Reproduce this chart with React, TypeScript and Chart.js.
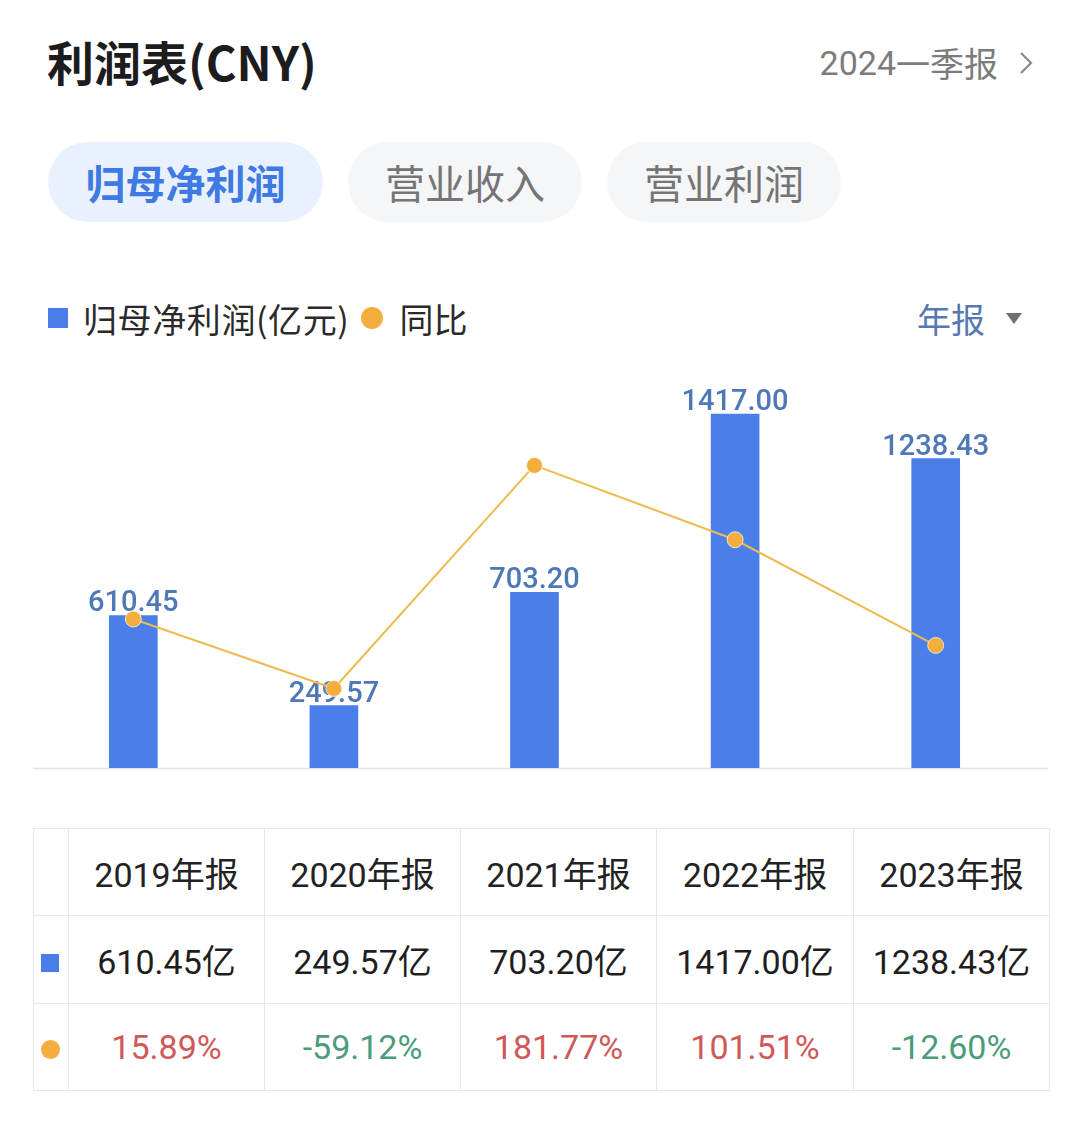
import React, { useEffect, useRef } from "react";
import { Chart, registerables } from "chart.js";

Chart.register(...registerables);

const categories = ["2019年报", "2020年报", "2021年报", "2022年报", "2023年报"];
const profitValues = [610.45, 249.57, 703.2, 1417.0, 1238.43];
const yoyValues = [15.89, -59.12, 181.77, 101.51, -12.6];
const tabs = ["归母净利润", "营业收入", "营业利润"];

const BAR_COLOR = "#4A7FEA";
const LINE_COLOR = "#EFBA50";
const DOT_COLOR = "#F4AE3D";
const LABEL_COLOR = "#4F78B6";
const NUM_FONT = 'Roboto, "Noto Sans CJK SC", sans-serif';
const CJK_FONT = '"Noto Sans CJK SC", "Noto Sans", sans-serif';

export default function App() {
  const canvasRef = useRef<HTMLCanvasElement | null>(null);

  useEffect(() => {
    document.body.style.margin = "0";
    const canvas = canvasRef.current;
    if (!canvas) return;

    const barLabelPlugin = {
      id: "barLabels",
      afterDatasetDraw(chart: any, args: any) {
        if (args.index !== 1) return;
        const ctx = chart.ctx;
        const meta = chart.getDatasetMeta(1);
        ctx.save();
        ctx.font = `500 29px ${NUM_FONT}`;
        ctx.fillStyle = LABEL_COLOR;
        ctx.textAlign = "center";
        ctx.textBaseline = "alphabetic";
        meta.data.forEach((el: any, i: number) => {
          ctx.fillText(profitValues[i].toFixed(2), el.x, el.y - 4);
        });
        ctx.restore();
      },
      beforeDatasetsDraw(chart: any) {
        const ctx = chart.ctx;
        const y = chart.chartArea.bottom + 0.5;
        ctx.save();
        ctx.strokeStyle = "#E3E3E3";
        ctx.lineWidth = 1.5;
        ctx.beginPath();
        ctx.moveTo(33, y);
        ctx.lineTo(1048, y);
        ctx.stroke();
        ctx.restore();
      },
    };

    const chart = new Chart(canvas, {
      type: "bar",
      data: {
        labels: categories,
        datasets: [
          {
            type: "line",
            label: "同比",
            data: yoyValues,
            yAxisID: "y1",
            borderColor: LINE_COLOR,
            borderWidth: 2,
            pointRadius: 8,
            pointBackgroundColor: DOT_COLOR,
            pointBorderColor: "rgba(255,255,255,0.7)",
            pointBorderWidth: 1,
            tension: 0,
          } as any,
          {
            type: "bar",
            label: "归母净利润(亿元)",
            data: profitValues,
            yAxisID: "y",
            backgroundColor: BAR_COLOR,
            barThickness: 48,
          } as any,
        ],
      },
      options: {
        animation: false,
        responsive: false,
        maintainAspectRatio: false,
        layout: { padding: { left: 33, right: 44, top: 28, bottom: 12 } },
        plugins: { legend: { display: false }, tooltip: { enabled: false } },
        scales: {
          x: { display: false, offset: true, grid: { display: false } },
          y: { display: false, min: 0, max: 1601 },
          y1: { display: false, min: -145, max: 287, position: "right" },
        },
      },
      plugins: [barLabelPlugin],
    });
    return () => chart.destroy();
  }, []);

  const cellBorder = "1px solid #E8E8E8";
  const colWidths = [35, 196, 196, 196, 197, 196];

  const pctColor = (v: number) => (v >= 0 ? "#CF5959" : "#4C9C7C");

  return (
    <div
      style={{
        position: "absolute",
        left: 0,
        top: 0,
        width: 1080,
        height: 1138,
        background: "#fff",
        overflow: "hidden",
        fontFamily: CJK_FONT,
      }}
    >
      {/* Title */}
      <div
        style={{
          position: "absolute",
          left: 47,
          top: 29,
          fontSize: 47,
          fontWeight: 700,
          color: "#1C1C1E",
          lineHeight: "64px",
        }}
      >
        利润表(CNY)
      </div>
      <div
        style={{
          position: "absolute",
          right: 46,
          top: 38,
          fontSize: 34,
          color: "#7C7C7C",
          lineHeight: "50px",
          display: "flex",
          alignItems: "center",
        }}
      >
        <span style={{ fontFamily: NUM_FONT }}>2024</span>
        <span>一季报</span>
        <svg width="16" height="26" viewBox="0 0 16 26" style={{ marginLeft: 20 }}>
          <polyline points="3,3 13,13 3,23" fill="none" stroke="#8A8A8A" strokeWidth="2.2" />
        </svg>
      </div>

      {/* Tabs */}
      {tabs.map((t, i) => {
        const lefts = [48, 348, 607];
        const widths = [275, 234, 234];
        const active = i === 0;
        return (
          <div
            key={t}
            style={{
              position: "absolute",
              left: lefts[i],
              top: 142,
              width: widths[i],
              height: 80,
              borderRadius: 40,
              background: active ? "#EAF1FE" : "#F5F6F8",
              color: active ? "#3F7AE4" : "#757575",
              fontSize: 40,
              fontWeight: active ? 700 : 400,
              display: "flex",
              alignItems: "center",
              justifyContent: "center",
            }}
          >
            {t}
          </div>
        );
      })}

      {/* Legend */}
      <div
        style={{
          position: "absolute",
          left: 48,
          top: 296,
          height: 44,
          display: "flex",
          alignItems: "center",
          fontSize: 34,
          color: "#2A2A2A",
        }}
      >
        <span style={{ width: 20, height: 20, background: BAR_COLOR, display: "inline-block", marginRight: 15 }} />
        <span style={{ letterSpacing: 0.6 }}>归母净利润(亿元)</span>
        <span
          style={{
            width: 22,
            height: 22,
            borderRadius: 11,
            background: DOT_COLOR,
            display: "inline-block",
            marginLeft: 12,
            marginRight: 16,
          }}
        />
        <span>同比</span>
      </div>
      <div
        style={{
          position: "absolute",
          left: 917,
          top: 296,
          height: 44,
          display: "flex",
          alignItems: "center",
          fontSize: 34,
          color: "#5878B0",
        }}
      >
        <span>年报</span>
        <svg width="18" height="14" viewBox="0 0 18 14" style={{ marginLeft: 20 }}>
          <polygon points="1,2 17,2 9,13" fill="#707070" />
        </svg>
      </div>

      {/* Chart */}
      <canvas
        ref={canvasRef}
        width={1080}
        height={440}
        style={{ position: "absolute", left: 0, top: 340, width: 1080, height: 440 }}
      />

      {/* Table */}
      <table
        style={{
          position: "absolute",
          left: 33,
          top: 828,
          width: 1016,
          borderCollapse: "collapse",
          tableLayout: "fixed",
          fontFamily: NUM_FONT,
          fontSize: 34,
        }}
      >
        <colgroup>
          {colWidths.map((w, i) => (
            <col key={i} style={{ width: w }} />
          ))}
        </colgroup>
        <tbody>
          <tr style={{ height: 87 }}>
            <td style={{ border: cellBorder }} />
            {categories.map((c) => (
              <td key={c} style={{ border: cellBorder, textAlign: "center", color: "#222" }}>
                {c}
              </td>
            ))}
          </tr>
          <tr style={{ height: 88 }}>
            <td style={{ border: cellBorder, textAlign: "center" }}>
              <span style={{ display: "inline-block", width: 18, height: 18, background: BAR_COLOR, marginLeft: -2 }} />
            </td>
            {profitValues.map((v, i) => (
              <td key={i} style={{ border: cellBorder, textAlign: "center", color: "#1E1E1E" }}>
                {v.toFixed(2)}亿
              </td>
            ))}
          </tr>
          <tr style={{ height: 87 }}>
            <td style={{ border: cellBorder, textAlign: "center" }}>
              <span
                style={{
                  display: "inline-block",
                  width: 19,
                  height: 19,
                  borderRadius: 10,
                  background: DOT_COLOR,
                  marginLeft: -2,
                }}
              />
            </td>
            {yoyValues.map((v, i) => (
              <td key={i} style={{ border: cellBorder, textAlign: "center", color: pctColor(v) }}>
                {v.toFixed(2)}%
              </td>
            ))}
          </tr>
        </tbody>
      </table>
    </div>
  );
}
